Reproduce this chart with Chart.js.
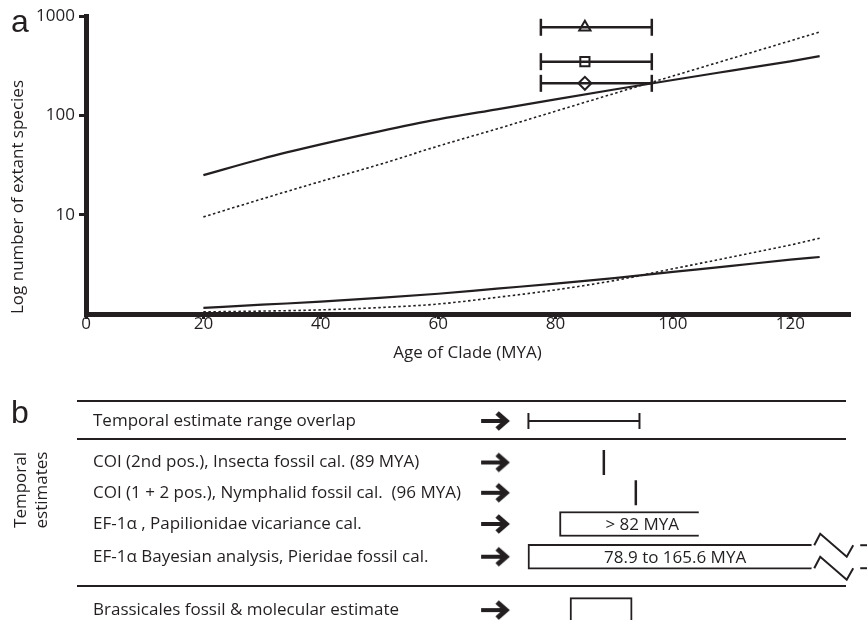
<!DOCTYPE html>
<html>
<head>
<meta charset="utf-8">
<script src="https://cdn.jsdelivr.net/npm/chart.js@4/dist/chart.umd.min.js"></script>
<style>
    body { margin: 0; background: #fff; }
    .wrap { position: relative; width: 867px; height: 620px; }
    .panel-a { position: absolute; left: 0; top: 0; width: 867px; height: 370px; }
    .panel-b { position: absolute; left: 0; top: 370px; width: 867px; height: 250px; }
</style>
</head>
<body>
<div class="wrap">
    <div class="panel-a"><canvas id="chart-a"></canvas></div>
    <div class="panel-b"><canvas id="chart-b"></canvas></div>
</div>
<script>
// Data - panel a
const ages = [20, 30, 40, 50, 60, 70, 80, 90, 100, 110, 120, 125];
const upperSolid = [25, 36.6, 51, 69, 91, 115, 145, 182, 227, 282, 350, 395];
const upperDotted = [9.5, 14.4, 21.6, 32, 49, 73, 110, 166, 249, 374, 562, 690];
const lowerSolid = [1.15, 1.24, 1.33, 1.45, 1.6, 1.8, 2.02, 2.3, 2.65, 3.05, 3.52, 3.75];
const lowerDotted = [1.05, 1.07, 1.1, 1.16, 1.26, 1.47, 1.75, 2.17, 2.85, 3.75, 4.95, 5.8];

const estimateLow = [77.5, 77.5, 77.5];
const estimateMid = [85, 85, 85];
const estimateHigh = [96.4, 96.4, 96.4];
const estimateSpecies = [770, 347, 210];

const ageTicks = [0, 20, 40, 60, 80, 100, 120];
const speciesTicks = [10, 100, 1000];

// Data - panel b
const rowLabels = [
    "Temporal estimate range overlap",
    "COI (2nd pos.), Insecta fossil cal. (89 MYA)",
    "COI (1 + 2 pos.), Nymphalid fossil cal.  (96 MYA)",
    "EF-1\u03B1 , Papilionidae vicariance cal.",
    "EF-1\u03B1 Bayesian analysis, Pieridae fossil cal.",
    "Brassicales fossil & molecular estimate"
];
const overlapRange = [72.5, 96.8];
const pointEstimates = [89, 96];
const boxRanges = [[79.3, 109.8], [72.4, 134.5], [81.6, 95.2]];
const boxLabels = ["> 82 MYA", "78.9 to 165.6 MYA", ""];

// Layout - panel b (row units, age units)
const rowPos = [0, 1.33, 2.3, 3.3, 4.35, 6.06];
const sepPos = [-0.64, 0.59, 5.3];
const arrowAge = 65.2;
const boxLabelAt = [97.4, 104.6, null];

// Style
const ink = "#231f20";
Chart.defaults.font.family = "'Open Sans', sans-serif";
Chart.defaults.font.size = 17;
Chart.defaults.color = ink;
Chart.defaults.animation = false;
Chart.defaults.plugins.legend.display = false;
Chart.defaults.plugins.tooltip.enabled = false;

const toPoints = (xs, ys) => xs.map((x, i) => ({x: x, y: ys[i]}));

const curve = (values, dotted) => ({
    data: toPoints(ages, values),
    showLine: true,
    borderColor: ink,
    borderWidth: dotted ? 1.6 : 2.2,
    borderDash: dotted ? [2.5, 2.5] : [],
    pointRadius: 0,
    cubicInterpolationMode: "monotone"
});

const errorBars = estimateSpecies.map((s, i) => ({
    data: [{x: estimateLow[i], y: s}, {x: estimateHigh[i], y: s}],
    showLine: true,
    borderColor: ink,
    borderWidth: 2.5,
    pointStyle: "line",
    pointRotation: 90,
    pointRadius: 8.5,
    pointBorderWidth: 2.5,
    pointBorderColor: ink
}));

const markers = {
    data: estimateSpecies.map((s, i) => ({x: estimateMid[i], y: s})),
    pointStyle: ["triangle", "rect", "rectRot"],
    pointRadius: [6.5, 6.5, 6.5],
    pointBackgroundColor: "#fff",
    pointBorderColor: ink,
    pointBorderWidth: 2
};

const panelLetter = (letter, y) => ({
    id: "letter-" + letter,
    afterDraw(chart) {
        let ctx = chart.ctx;
        ctx.save();
        ctx.fillStyle = ink;
        ctx.font = "32px 'Liberation Sans', Arial, sans-serif";
        ctx.textAlign = "left";
        ctx.textBaseline = "alphabetic";
        ctx.fillText(letter, 11, y);
        ctx.restore();
    }
});

// Chart a
new Chart(document.getElementById("chart-a"), {
    type: "scatter",
    data: {
        datasets: [
            curve(upperSolid, false),
            curve(upperDotted, true),
            curve(lowerSolid, false),
            curve(lowerDotted, true),
            ...errorBars,
            markers
        ]
    },
    options: {
        responsive: true,
        maintainAspectRatio: false,
        layout: {autoPadding: false, padding: {top: 16, right: 18, left: 0, bottom: 0}},
        scales: {
            x: {
                type: "linear",
                min: 0,
                max: 130,
                afterBuildTicks: (s) => { s.ticks = ageTicks.map(v => ({value: v})); },
                afterFit: (s) => { s.height = 56; },
                border: {color: ink, width: 5},
                grid: {drawOnChartArea: false, color: ink, lineWidth: 3, tickLength: 5},
                ticks: {padding: -5, maxRotation: 0},
                title: {display: true, text: "Age of Clade (MYA)", padding: {top: 0, bottom: 7}}
            },
            y: {
                type: "logarithmic",
                min: 1,
                max: 1000,
                afterBuildTicks: (s) => { s.ticks = speciesTicks.map(v => ({value: v})); },
                afterFit: (s) => { s.width = 86; },
                border: {color: ink, width: 5},
                grid: {drawOnChartArea: false, color: ink, lineWidth: 3, tickLength: 7},
                ticks: {padding: 4, callback: (v) => String(v)},
                title: {display: true, text: "Log number of extant species", align: "start", padding: {top: 8, bottom: 0}}
            }
        }
    },
    plugins: [panelLetter("a", 32)]
});

// Arrow marker
const arrowImg = document.createElement("canvas");
arrowImg.width = 32;
arrowImg.height = 22;
let g = arrowImg.getContext("2d");
g.strokeStyle = ink;
g.lineWidth = 4;
g.beginPath(); g.moveTo(2, 11); g.lineTo(25, 11); g.stroke();
g.lineWidth = 5;
g.lineJoin = "miter";
g.beginPath(); g.moveTo(18, 3); g.lineTo(27, 11); g.lineTo(18, 19); g.stroke();

const panelBDecor = {
    id: "panelBDecor",
    afterDatasetsDraw(chart) {
        let ctx = chart.ctx;
        let xs = chart.scales.x;
        let bars = chart.getDatasetMeta(0).data;
        ctx.save();
        ctx.fillStyle = ink;
        ctx.strokeStyle = ink;
        ctx.font = "17px 'Open Sans', sans-serif";
        ctx.textAlign = "center";
        ctx.textBaseline = "middle";
        boxLabels.forEach((t, i) => {
            if (t) ctx.fillText(t, xs.getPixelForValue(boxLabelAt[i]), bars[i].y + 1);
        });

        // break marks on the open-ended box
        let b = bars[1];
        let top = b.y - b.height / 2 + 1;
        let bottom = b.y + b.height / 2 - 1;
        ctx.lineWidth = 2;
        [top, bottom].forEach(y => {
            ctx.beginPath();
            ctx.moveTo(b.x + 2.5, y);
            ctx.lineTo(b.x + 8.5, y - 11.5);
            ctx.lineTo(b.x + 35, y + 11.5);
            ctx.lineTo(b.x + 41.5, y);
            ctx.stroke();
            ctx.beginPath();
            ctx.moveTo(b.x + 48.5, y);
            ctx.lineTo(chart.width, y);
            ctx.stroke();
        });

        // side title
        ctx.translate(0, 120);
        ctx.rotate(-Math.PI / 2);
        ctx.fillText("Temporal", 0, 21.5);
        ctx.fillText("estimates", 0, 42.5);
        ctx.restore();
    }
};

// Chart b
new Chart(document.getElementById("chart-b"), {
    type: "scatter",
    data: {
        datasets: [
            {
                type: "bar",
                indexAxis: "y",
                data: boxRanges.map((r, i) => ({x: r, y: rowPos[3 + i]})),
                backgroundColor: "#fff",
                borderColor: ink,
                borderSkipped: false,
                borderWidth: (c) => c.dataIndex === 2 ? 2 : {top: 2, bottom: 2, left: 2, right: 0},
                barThickness: 25
            },
            {
                data: overlapRange.map(v => ({x: v, y: rowPos[0]})),
                showLine: true,
                borderColor: ink,
                borderWidth: 2,
                pointStyle: "line",
                pointRotation: 90,
                pointRadius: 8,
                pointBorderWidth: 2,
                pointBorderColor: ink
            },
            {
                data: pointEstimates.map((v, i) => ({x: v, y: rowPos[1 + i]})),
                pointStyle: "line",
                pointRotation: 90,
                pointRadius: 12.5,
                pointBorderWidth: 2.5,
                pointBorderColor: ink
            },
            {
                data: rowPos.map(r => ({x: arrowAge, y: r})),
                pointStyle: arrowImg
            }
        ]
    },
    options: {
        responsive: true,
        maintainAspectRatio: false,
        layout: {autoPadding: false, padding: {top: 0, right: 21, left: 0, bottom: 0}},
        scales: {
            x: {type: "linear", min: -26.3, max: 142, display: false, offset: false},
            y: {
                type: "linear",
                reverse: true,
                offset: false,
                min: -1.634,
                max: 6.378,
                afterBuildTicks: (s) => { s.ticks = rowPos.concat(sepPos).map(v => ({value: v})); },
                afterFit: (s) => { s.width = 77; s.paddingTop = 0; s.paddingBottom = 0; },
                border: {display: false},
                grid: {
                    offset: false,
                    drawTicks: false,
                    lineWidth: 2,
                    color: (c) => c.tick && sepPos.includes(c.tick.value) ? ink : "rgba(0,0,0,0)"
                },
                ticks: {
                    mirror: true,
                    crossAlign: "near",
                    padding: 16,
                    autoSkip: false,
                    callback: (v) => {
                        let i = rowPos.indexOf(v);
                        return i < 0 ? "" : rowLabels[i];
                    }
                }
            }
        }
    },
    plugins: [panelBDecor, panelLetter("b", 53)]
});
</script>
</body>
</html>
